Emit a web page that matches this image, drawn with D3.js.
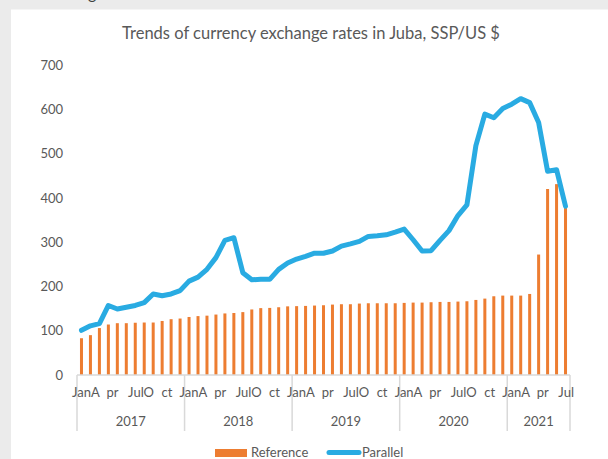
<!DOCTYPE html>
<html>
<head>
<meta charset="utf-8">
<script src="https://cdn.jsdelivr.net/npm/d3@7"></script>
<style>
  body { margin: 0; background: #ebebeb; }
  svg { display: block; font-family: Lato, "Open Sans", sans-serif; }
</style>
</head>
<body>
<script>
// months Jan 2017 .. Jul 2021
var years = ["2017", "2018", "2019", "2020", "2021"];
var monthsPerYear = [12, 12, 12, 12, 7];

// Reference rate (bars)
var reference = [83, 90, 106, 114, 117, 117, 118, 118.5, 118.5, 122, 126, 127.5,
                 131, 133, 134, 136.5, 139, 140, 142, 148, 151, 151.5, 153, 155,
                 155.5, 156, 156.8, 157.5, 159, 159.8, 159.8, 161.3, 162, 162, 162, 162,
                 162.8, 163.5, 163.5, 164.3, 165, 165, 165.8, 166.5, 169.5, 172.5, 177.8, 179.3,
                 179.3, 179.3, 183, 272, 420, 431, 380];

// Parallel market rate (line)
var parallel = [101, 111, 116, 157, 149, 153, 157, 163.5, 183, 179, 183, 190.5,
                212, 221, 238.6, 265, 304, 310, 231, 215, 216, 216, 238.6, 252.8,
                261.8, 267.8, 275, 275, 280, 291, 296, 301.6, 313, 314.4, 316.6, 322.6,
                329.4, 305.4, 280, 280.8, 304, 326, 360, 384, 518, 589, 581, 601.6,
                611.5, 624, 615, 570, 460, 463.6, 381];

// month tick texts as they show under each year, and month offset where each starts
var monthTickText = ["JanA", "pr", "JulO", "ct"];
var monthTickAt = [-0.56, 3.3, 5.7, 9.43];
var lastYearTickText = ["JanA", "pr", "Jul"];

var yTicks = [0, 100, 200, 300, 400, 500, 600, 700];

var W = 608, H = 459;
var plot = {left: 77, right: 570, top: 65, bottom: 375};
var textColor = "#595959";

var svg = d3.select("body").append("svg")
    .attr("width", W)
    .attr("height", H);

// white chart panel
svg.append("rect")
    .attr("x", 11).attr("y", 9.5)
    .attr("width", W - 11).attr("height", H - 9.5)
    .attr("fill", "#ffffff");

// cut-off descender from the heading above the chart
svg.append("text")
    .attr("x", 88).attr("y", -1)
    .style("font-size", "16px")
    .style("fill", "#404040")
    .text("g");

var months = d3.range(reference.length);

var x = d3.scaleBand()
    .domain(months)
    .range([plot.left, plot.right])
    .paddingInner(0.665)
    .paddingOuter(0.3325);

var xPos = d3.scaleLinear()
    .domain([0, reference.length])
    .range([plot.left, plot.right]);

var y = d3.scaleLinear()
    .domain([0, 700])
    .range([plot.bottom, plot.top]);

// title
var title = svg.append("text")
    .attr("x", 311).attr("y", 39)
    .attr("text-anchor", "middle")
    .style("font-size", "16px")
    .style("fill", textColor)
    .text("Trends of currency exchange rates in Juba, SSP/US $");
var tw = title.node().getComputedTextLength();
title.style("font-size", (16 * 378 / tw) + "px");

// y axis labels (no axis line, no grid)
var yAxis = svg.append("g")
    .attr("transform", "translate(" + 63 + ",0)")
    .call(d3.axisLeft(y).tickValues(yTicks).tickSize(0).tickPadding(0));
yAxis.select(".domain").remove();
yAxis.selectAll("text")
    .style("font-family", "Lato, 'Open Sans', sans-serif")
    .style("font-size", "13px")
    .style("fill", textColor);

// bars
svg.selectAll(".bar")
    .data(reference)
    .enter()
    .append("rect")
    .attr("class", "bar")
    .attr("x", function(d, i) { return x(i); })
    .attr("y", function(d) { return y(d); })
    .attr("width", x.bandwidth())
    .attr("height", function(d) { return y(0) - y(d); })
    .attr("fill", "#ed7d31");

// x axis line + year separators
svg.append("line")
    .attr("x1", plot.left).attr("x2", plot.right)
    .attr("y1", plot.bottom).attr("y2", plot.bottom)
    .style("stroke", "#d9d9d9")
    .style("stroke-width", 1.5);

var yearStart = [0];
monthsPerYear.forEach(function(m, i) { yearStart.push(yearStart[i] + m); });

svg.selectAll(".sep")
    .data(yearStart)
    .enter()
    .append("line")
    .attr("class", "sep")
    .attr("x1", function(d) { return xPos(d); })
    .attr("x2", function(d) { return xPos(d); })
    .attr("y1", plot.bottom)
    .attr("y2", 431)
    .style("stroke", "#d9d9d9")
    .style("stroke-width", 1.5);

// month tick texts
var monthLabels = [];
years.forEach(function(yr, i) {
    var texts = i == years.length - 1 ? lastYearTickText : monthTickText;
    texts.forEach(function(t, j) {
        monthLabels.push({text: t, at: yearStart[i] + monthTickAt[j]});
    });
});

svg.selectAll(".mlab")
    .data(monthLabels)
    .enter()
    .append("text")
    .attr("class", "mlab")
    .attr("x", function(d) { return xPos(d.at); })
    .attr("y", 397)
    .style("font-size", "13px")
    .style("fill", textColor)
    .text(function(d) { return d.text; });

// year labels
svg.selectAll(".ylab")
    .data(years)
    .enter()
    .append("text")
    .attr("class", "ylab")
    .attr("x", function(d, i) { return xPos((yearStart[i] + yearStart[i + 1]) / 2); })
    .attr("y", 426)
    .attr("text-anchor", "middle")
    .style("font-size", "13px")
    .style("fill", textColor)
    .text(function(d) { return d; });

// parallel line
var line = d3.line()
    .x(function(d, i) { return x(i) + x.bandwidth() / 2; })
    .y(function(d) { return y(d); });

svg.append("path")
    .datum(parallel)
    .attr("d", line)
    .attr("fill", "none")
    .attr("stroke", "#29abe2")
    .attr("stroke-width", 5)
    .attr("stroke-linejoin", "round")
    .attr("stroke-linecap", "round");

// legend
var lg = svg.append("g");
lg.append("rect")
    .attr("x", 215).attr("y", 449)
    .attr("width", 32).attr("height", 8)
    .attr("fill", "#ed7d31");
lg.append("text")
    .attr("x", 251).attr("y", 457)
    .style("font-size", "13px")
    .style("fill", textColor)
    .text("Reference");
lg.append("line")
    .attr("x1", 329).attr("x2", 359)
    .attr("y1", 452.5).attr("y2", 452.5)
    .attr("stroke", "#29abe2")
    .attr("stroke-width", 5)
    .attr("stroke-linecap", "round");
lg.append("text")
    .attr("x", 362).attr("y", 457)
    .style("font-size", "13px")
    .style("fill", textColor)
    .text("Parallel");
</script>
</body>
</html>
